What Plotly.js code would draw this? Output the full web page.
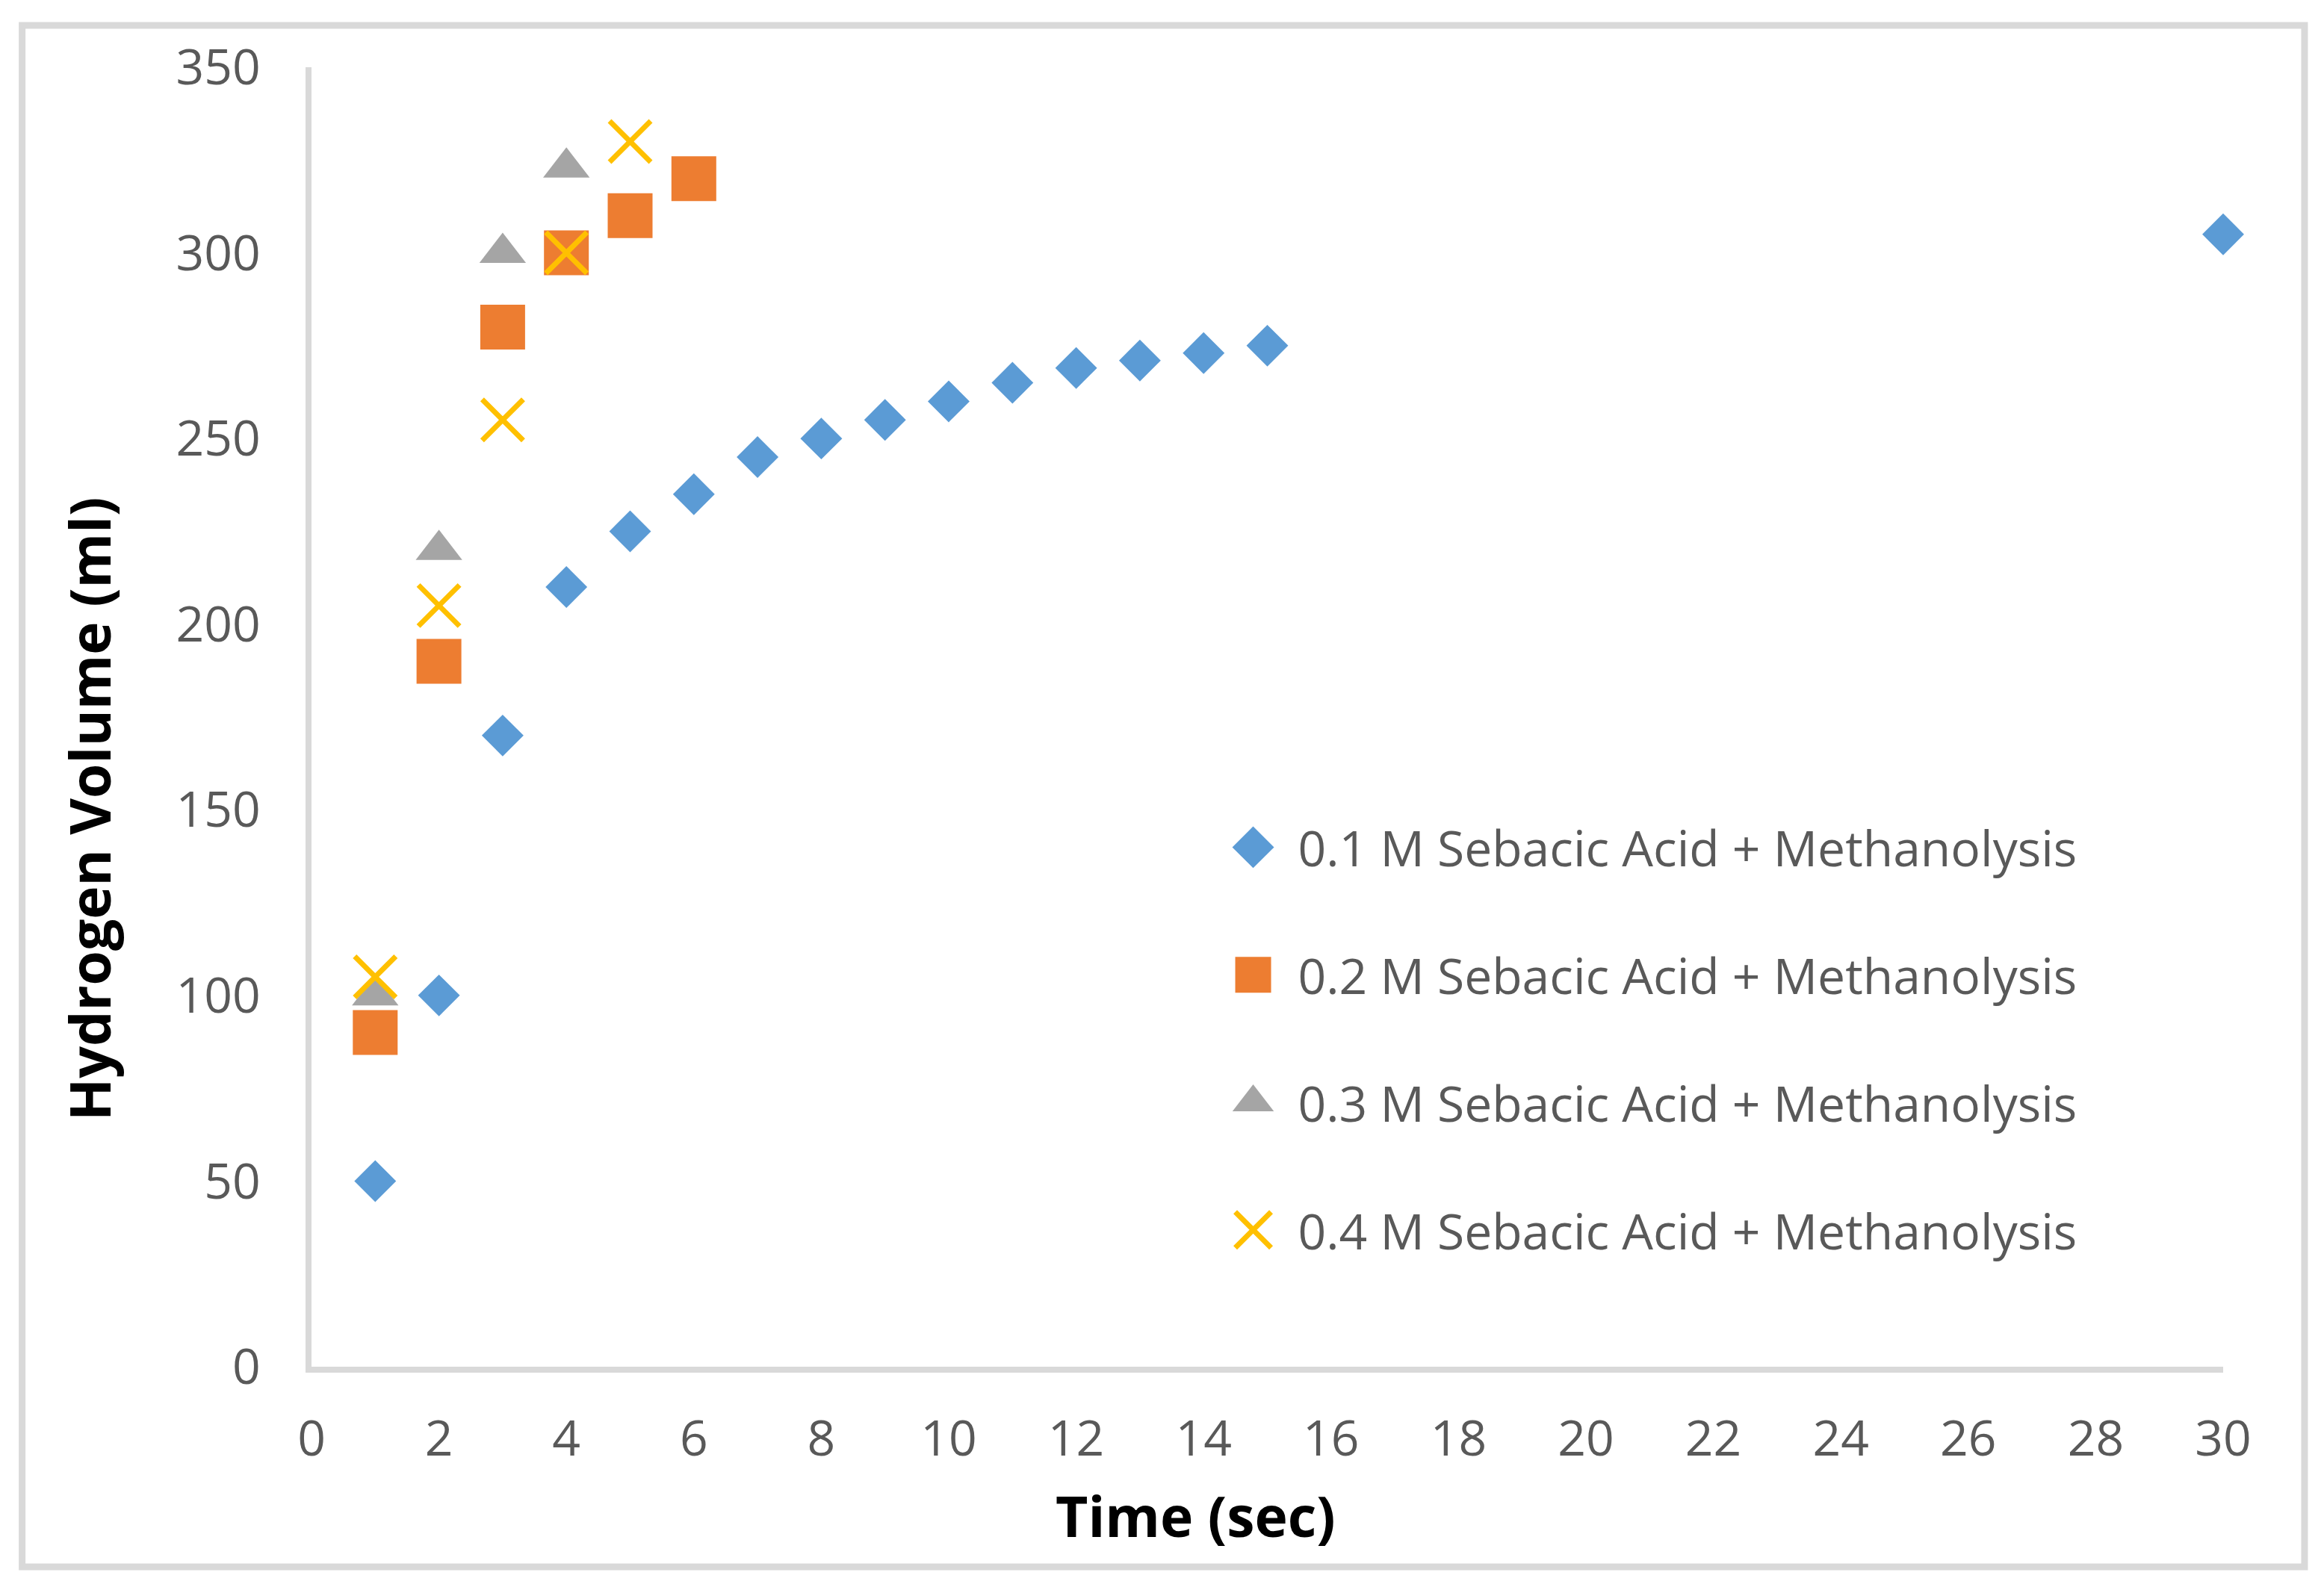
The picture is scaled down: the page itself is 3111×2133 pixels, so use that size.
<!DOCTYPE html>
<html>
<head>
<meta charset="utf-8">
<script src="https://cdn.plot.ly/plotly-3.0.1.min.js"></script>
<style>
html,body{margin:0;padding:0;background:#ffffff;width:3111px;height:2133px;}
#wrap{width:1037px;height:711px;transform:scale(3);transform-origin:0 0;}
#chart{width:1037px;height:711px;}
</style>
</head>
<body>
<div id="wrap"><div id="chart"></div></div>
<script>
// ---- data ----
const seriesNames = [
  "0.1 M Sebacic Acid + Methanolysis",
  "0.2 M Sebacic Acid + Methanolysis",
  "0.3 M Sebacic Acid + Methanolysis",
  "0.4 M Sebacic Acid + Methanolysis"
];
const time01 = [1, 2, 3, 4, 5, 6, 7, 8, 9, 10, 11, 12, 13, 14, 15, 30];
const vol01  = [50, 100, 170, 210, 225, 235, 245, 250, 255, 260, 265, 269, 271, 273, 275, 305];
const time02 = [1, 2, 3, 4, 5, 6];
const vol02  = [90, 190, 280, 300, 310, 320];
const time03 = [1, 2, 3, 4];
const vol03  = [100, 220, 300, 323];
const time04 = [1, 2, 3, 4, 5];
const vol04  = [105, 205, 255, 300, 330];
const xTitle = "Time (sec)";
const yTitle = "Hydrogen Volume (ml)";

// ---- layout helpers (reference pixel space -> css space) ----
const K = 3;                       // page is drawn at 1/3 and scaled up 3x
const W = 3111, H = 2133;
const PL = 417, PR = 2977, PT = 89, PB = 1829;   // plot area in reference pixels
const s = v => v / K;
const px2x = p => (p - PL) / (PR - PL);
const px2y = p => (PB - p) / (PB - PT);

const tickFont = {family: "Open Sans", size: s(66), color: "#595959"};
const titleFont = {family: "Open Sans", size: s(75), color: "#000000", weight: 700};

const traces = [
  {x: time01, y: vol01, name: seriesNames[0], legendgroup: "g1", type: "scatter", mode: "markers", cliponaxis: false,
   marker: {symbol: "diamond", size: s(43), color: "#5B9BD5"}},
  {x: time02, y: vol02, name: seriesNames[1], legendgroup: "g2", type: "scatter", mode: "markers", cliponaxis: false,
   marker: {symbol: "square", size: s(60), color: "#ED7D31"}},
  {x: time03, y: vol03, name: seriesNames[2], legendgroup: "g3", type: "scatter", mode: "markers", cliponaxis: false,
   marker: {symbol: "triangle-up", size: s(54), color: "#A5A5A5"}},
  {x: time04, y: vol04, name: seriesNames[3], legendgroup: "g4", type: "scatter", mode: "markers", cliponaxis: false,
   marker: {symbol: "x-thin", size: s(55), color: "#FFC000", line: {color: "#FFC000", width: s(7)}}}
];

const layout = {
  width: s(W), height: s(H),
  margin: {l: s(PL), r: s(W - PR), t: s(PT), b: s(H - PB), pad: 0},
  paper_bgcolor: "#ffffff", plot_bgcolor: "#ffffff",
  showlegend: true,
  xaxis: {
    range: [0, 30], dtick: 2, tick0: 0, showgrid: false, zeroline: false,
    showline: true, linecolor: "#d9d9d9", linewidth: s(8),
    ticks: "outside", ticklen: s(32), tickcolor: "rgba(0,0,0,0)", tickwidth: 1,
    tickfont: tickFont, fixedrange: true
  },
  yaxis: {
    range: [0, 350], dtick: 50, tick0: 0, showgrid: false, zeroline: false,
    showline: true, linecolor: "#d9d9d9", linewidth: s(8),
    ticks: "outside", ticklen: s(47), tickcolor: "rgba(0,0,0,0)", tickwidth: 1,
    tickfont: tickFont, fixedrange: true
  },
  legend: {
    x: px2x(1618), xanchor: "left", y: px2y(1071), yanchor: "top",
    font: {family: "Open Sans", size: s(66), color: "#595959"},
    bgcolor: "rgba(0,0,0,0)", borderwidth: 0,
    traceorder: "grouped", tracegroupgap: s(76)
  },
  annotations: [
    {text: yTitle, xref: "paper", yref: "paper", x: px2x(118), y: px2y(1082),
     xanchor: "center", yanchor: "middle", textangle: -90, showarrow: false, font: titleFont},
    {text: xTitle, xref: "paper", yref: "paper", x: px2x(1601), y: px2y(2027),
     xanchor: "center", yanchor: "middle", showarrow: false, font: titleFont}
  ],
  shapes: [
    {type: "rect", xref: "paper", yref: "paper", layer: "below",
     x0: px2x(29.5), x1: px2x(3086), y0: px2y(2097), y1: px2y(33),
     line: {color: "#d9d9d9", width: s(9)}, fillcolor: "rgba(0,0,0,0)"}
  ]
};

Plotly.newPlot("chart", traces, layout, {displayModeBar: false, staticPlot: true});
</script>
</body>
</html>
